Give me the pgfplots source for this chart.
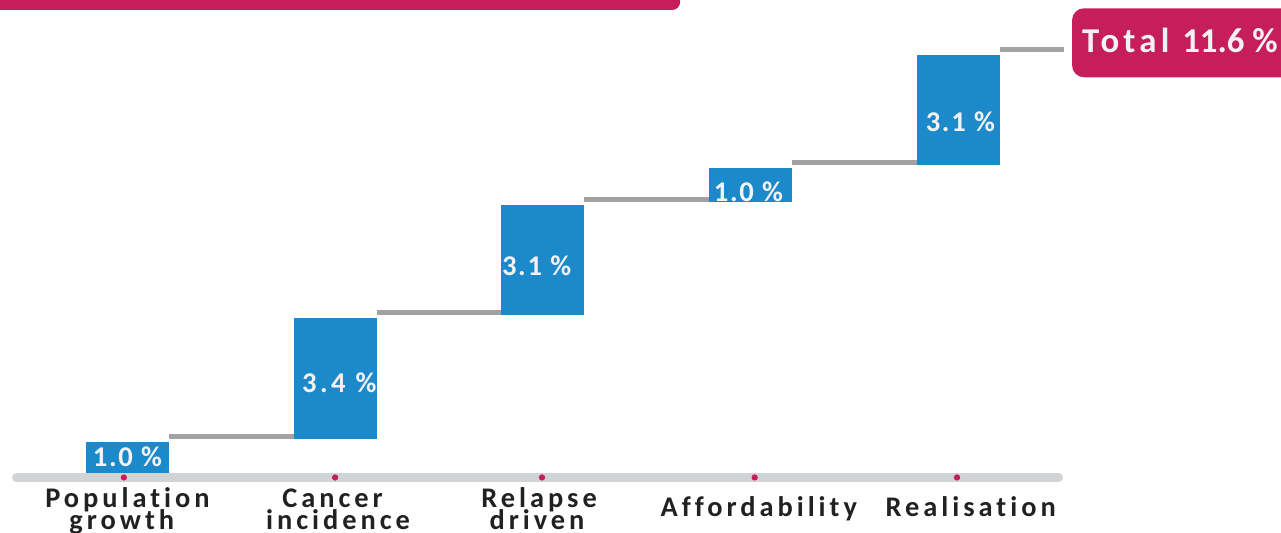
\documentclass[border=0pt]{standalone}
\usepackage{pgfplots}
\pgfplotsset{compat=1.18}
\usepackage{fontspec}
\setmainfont{Carlito}[Ligatures=NoCommon]
\newfontfamily\catfont{Carlito}[LetterSpace=14, Ligatures=NoCommon]
\newfontfamily\valfont{Carlito}[LetterSpace=6, Ligatures=NoCommon]
\newfontfamily\valfontwide{Carlito}[LetterSpace=12, Ligatures=NoCommon]
\newfontfamily\totfont{Carlito}[LetterSpace=12, Ligatures=NoCommon]
\newfontfamily\totnumfont{Carlito}[Ligatures=NoCommon]
\definecolor{barblue}{RGB}{28,137,202}
\definecolor{mag}{RGB}{197,30,91}
\definecolor{congray}{RGB}{162,162,162}
\definecolor{basegray}{RGB}{210,211,213}
\definecolor{txt}{RGB}{33,33,33}
\begin{document}
\begin{tikzpicture}
\useasboundingbox (0,0) rectangle (640.5pt,266.5pt);
\clip (0,0) rectangle (640.5pt,266.5pt);
\begin{axis}[at={(0,0)}, anchor=south west, scale only axis,
  width=640.5pt, height=266.5pt,
  xmin=-0.6134, xmax=5.554, ymin=-1.6438, ymax=12.959,
  hide axis, clip=false]
% header strip
\fill[mag, rounded corners=4pt] (axis cs:-0.8,13.6) rectangle (axis cs:2.661,12.685);
% connectors at cumulative levels 1.0, 4.4, 7.5, 8.5, 11.6
\addplot[congray, line width=2.5pt, unbounded coords=jump] coordinates {
  (0.2,1.0) (1.2,1.0) (1.2,nan)
  (1.2,4.4) (2.2,4.4) (2.2,nan)
  (2.2,7.5) (3.2,7.5) (3.2,nan)
  (3.2,8.5) (4.2,8.5) (4.2,nan)
  (4.2,11.6) (4.509,11.6)
};
% floating bars (from previous cumulative to new cumulative level)
\addplot[barblue, line width=41.6pt, unbounded coords=jump] coordinates {
  (0,-0.07) (0,0.85) (0,nan)
  (1,0.93) (1,4.25) (1,nan)
  (2,4.33) (2,7.35) (2,nan)
  (3,7.43) (3,8.35) (3,nan)
  (4,8.43) (4,11.45)
};
% baseline
\addplot[basegray, line width=4.5pt, line cap=round] coordinates {(-0.534,-0.1233) (4.483,-0.1233)};
\addplot[only marks, mark=*, mark size=1.35pt, mag] coordinates {
  (-0.017,-0.1233) (1.0,-0.1233) (1.996,-0.1233) (3.02,-0.1233) (3.994,-0.1233)};
% value labels
\begin{scope}[every node/.style={text=white!95!black, font=\valfont\bfseries\fontsize{14.3}{14.3}\selectfont}]
\node at (axis cs:0,0.44) {1.0 \%};
\node[font=\valfontwide\bfseries\fontsize{14.3}{14.3}\selectfont] at (axis cs:1.02,2.47) {3.4 \%};
\node at (axis cs:1.97,5.67) {3.1 \%};
\node at (axis cs:2.99,7.70) {1.0 \%};
\node at (axis cs:4.01,9.62) {3.1 \%};
\end{scope}
% category labels
\begin{scope}[every node/.style={anchor=base, text=txt, inner sep=0pt, font=\catfont\bfseries\fontsize{14.2}{14.2}\selectfont}]
\node at (axis cs:0,-0.94) {Population};
\node at (axis cs:-0.027,-1.548) {growth};
\node at (axis cs:0.988,-0.94) {Cancer};
\node at (axis cs:1.014,-1.548) {incidence};
\node at (axis cs:1.982,-0.94) {Relapse};
\node at (axis cs:1.972,-1.548) {driven};
\node at (axis cs:3.04,-1.197) {Affordability};
\node at (axis cs:4.06,-1.197) {Realisation};
\end{scope}
% total box
\fill[mag, rounded corners=6pt] (axis cs:4.548,12.732) rectangle (axis cs:5.8,10.841);
\node[anchor=base west, inner sep=0pt, text=white!95!black, font=\bfseries\fontsize{17.4}{17.4}\selectfont] at (axis cs:4.595,11.515) {{\totfont Total}\hspace{6.5pt}{\totnumfont 11.6 \%}};
\end{axis}
\end{tikzpicture}
\end{document}
